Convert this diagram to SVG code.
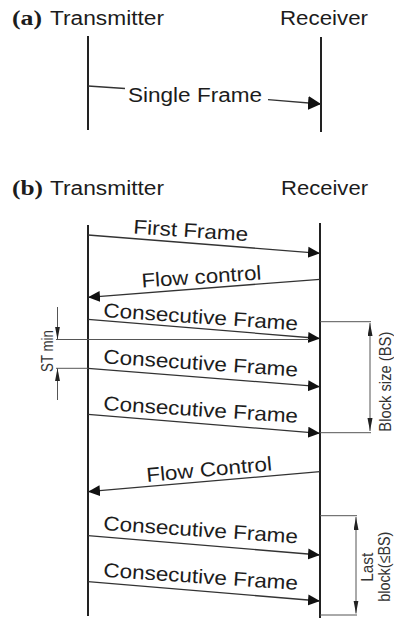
<svg xmlns="http://www.w3.org/2000/svg" width="394" height="618" viewBox="0 0 394 618">
<style>
.lbl{font-family:"Liberation Sans",Arial,sans-serif;font-size:20px;fill:#1c1c1c}
.sm{font-family:"Liberation Sans",Arial,sans-serif;font-size:14px;fill:#333}
.tag{font-family:"Liberation Serif","Times New Roman",serif;font-size:20px;font-weight:bold;fill:#1c1c1c}
.life{stroke:#222;stroke-width:2;fill:none}
.msg{stroke:#333;stroke-width:1.3;fill:none}
.ext{stroke:#555;stroke-width:1;fill:none}
</style>
<defs>
<marker id="ah" markerUnits="userSpaceOnUse" markerWidth="14" markerHeight="14" refX="12" refY="6" orient="auto"><path d="M0,0.5 L12,6 L0,11.5 z" fill="#111"/></marker>
<marker id="ahA" markerUnits="userSpaceOnUse" markerWidth="15" markerHeight="16" refX="13" refY="7" orient="auto"><path d="M0,0 L13,7 L0,14 z" fill="#111"/></marker>
<marker id="dim" markerUnits="userSpaceOnUse" markerWidth="14" markerHeight="6" refX="13" refY="2.5" orient="auto-start-reverse"><path d="M0,0 L13,2.5 L0,5 z" fill="#222"/></marker>
</defs>
<rect width="394" height="618" fill="#fff"/>

<g id="part-a">
<text class="tag" x="12" y="25" textLength="30" lengthAdjust="spacingAndGlyphs">(a)</text>
<g id="a-transmitter"><text class="lbl" x="50" y="25" textLength="114" lengthAdjust="spacingAndGlyphs">Transmitter</text><line class="life" x1="88" y1="36" x2="88" y2="130"/></g>
<g id="a-receiver"><text class="lbl" x="280" y="25" textLength="88" lengthAdjust="spacingAndGlyphs">Receiver</text><line class="life" x1="321" y1="37" x2="321" y2="132"/></g>
</g>

<g id="part-b">
<text class="tag" x="12" y="195" textLength="31" lengthAdjust="spacingAndGlyphs">(b)</text>
<g id="b-transmitter"><text class="lbl" x="50" y="195" textLength="114" lengthAdjust="spacingAndGlyphs">Transmitter</text><line class="life" x1="88" y1="225" x2="88" y2="616"/></g>
<g id="b-receiver"><text class="lbl" x="281" y="195" textLength="87" lengthAdjust="spacingAndGlyphs">Receiver</text><line class="life" x1="320" y1="223" x2="320" y2="618"/></g>
</g>

<g id="connectors">
<line class="msg" x1="88" y1="86" x2="125" y2="88.5"/>
<line class="msg" x1="268" y1="99.7" x2="321" y2="104" marker-end="url(#ahA)"/>
<text class="lbl" x="128" y="101.5" textLength="134" lengthAdjust="spacingAndGlyphs">Single Frame</text>

<line class="msg" x1="88" y1="235" x2="320" y2="253.3" marker-end="url(#ah)"/>
<text class="lbl" x="133" y="233.5" textLength="115" lengthAdjust="spacingAndGlyphs" transform="rotate(3.8 133 233.5)">First Frame</text>

<line class="msg" x1="320" y1="279.3" x2="88" y2="297.3" marker-end="url(#ah)"/>
<text class="lbl" x="142" y="287.5" textLength="120" lengthAdjust="spacingAndGlyphs" transform="rotate(-3.9 142 287.5)">Flow control</text>

<line class="msg" x1="88" y1="319.3" x2="320" y2="338.5" marker-end="url(#ah)"/>
<text class="lbl" x="103" y="317" textLength="195" lengthAdjust="spacingAndGlyphs" transform="rotate(3.9 103 317)">Consecutive Frame</text>

<line class="msg" x1="88" y1="368.3" x2="320" y2="386.7" marker-end="url(#ah)"/>
<text class="lbl" x="103" y="363.3" textLength="195" lengthAdjust="spacingAndGlyphs" transform="rotate(3.9 103 363.3)">Consecutive Frame</text>

<line class="msg" x1="88" y1="414.3" x2="320" y2="433.3" marker-end="url(#ah)"/>
<text class="lbl" x="103" y="410" textLength="195" lengthAdjust="spacingAndGlyphs" transform="rotate(3.8 103 410)">Consecutive Frame</text>

<line class="msg" x1="320" y1="471.7" x2="88" y2="491.7" marker-end="url(#ah)"/>
<text class="lbl" x="147" y="482" textLength="126" lengthAdjust="spacingAndGlyphs" transform="rotate(-5.3 147 482)">Flow Control</text>

<line class="msg" x1="88" y1="535.7" x2="320" y2="555" marker-end="url(#ah)"/>
<text class="lbl" x="103" y="530" textLength="195" lengthAdjust="spacingAndGlyphs" transform="rotate(3.9 103 530)">Consecutive Frame</text>

<line class="msg" x1="88" y1="581.7" x2="320" y2="601" marker-end="url(#ah)"/>
<text class="lbl" x="103" y="576.7" textLength="195" lengthAdjust="spacingAndGlyphs" transform="rotate(3.9 103 576.7)">Consecutive Frame</text>
</g>

<g id="st-min">
<line class="ext" x1="56" y1="339.5" x2="309" y2="339.5"/>
<line class="ext" x1="56" y1="368.3" x2="88" y2="368.3"/>
<line class="ext" x1="57.5" y1="307" x2="57.5" y2="339.5" marker-end="url(#dim)"/>
<line class="ext" x1="57.5" y1="400" x2="57.5" y2="368.3" marker-end="url(#dim)"/>
<text class="sm" text-anchor="middle" textLength="42" lengthAdjust="spacingAndGlyphs" transform="translate(53 351) scale(1.2 1) rotate(-90)">ST min</text>
</g>

<g id="block-size">
<line class="ext" x1="320" y1="321.7" x2="371" y2="321.7"/>
<line class="ext" x1="320" y1="432.7" x2="371" y2="432.7"/>
<line class="ext" x1="370" y1="323" x2="370" y2="431" marker-start="url(#dim)" marker-end="url(#dim)"/>
<text class="sm" text-anchor="middle" textLength="100" lengthAdjust="spacingAndGlyphs" transform="translate(390.5 381.7) scale(1.2 1) rotate(-90)">Block size (BS)</text>
</g>

<g id="last-block">
<line class="ext" x1="320" y1="515.7" x2="357" y2="515.7"/>
<line class="ext" x1="320" y1="615" x2="357" y2="615"/>
<line class="ext" x1="356" y1="517" x2="356" y2="613.5" marker-start="url(#dim)" marker-end="url(#dim)"/>
<text class="sm" text-anchor="middle" textLength="29" lengthAdjust="spacingAndGlyphs" transform="translate(372.5 567.3) scale(1.2 1) rotate(-90)">Last</text>
<text class="sm" text-anchor="middle" textLength="70" lengthAdjust="spacingAndGlyphs" transform="translate(389.5 566.7) scale(1.2 1) rotate(-90)">block(≤BS)</text>
</g>
</svg>
